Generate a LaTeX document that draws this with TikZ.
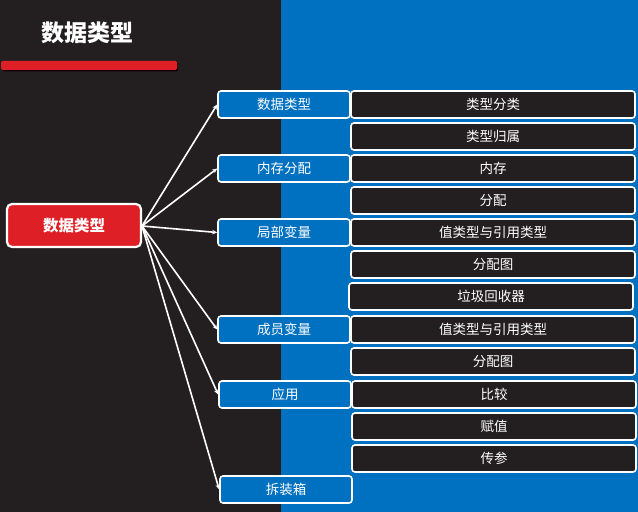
\documentclass[tikz,border=0pt]{standalone}
\usepackage{fontspec}
\setmainfont{Noto Sans CJK SC}
\usetikzlibrary{arrows.meta,shadows}
\definecolor{darkbg}{HTML}{231F20}
\definecolor{bluebg}{HTML}{0070C0}
\definecolor{redc}{HTML}{DF1F26}
\tikzset{
  lvone/.style={draw=white, line width=1.6bp, fill=bluebg, rounded corners=3bp, minimum width=132bp, minimum height=27bp, inner sep=0pt, text=white, font=\fontsize{13.5bp}{15bp}\selectfont},
  lvtwo/.style={draw=white, line width=1.6bp, fill=darkbg, rounded corners=3bp, minimum width=284bp, minimum height=27bp, inner sep=0pt, text=white, font=\fontsize{13.5bp}{15bp}\selectfont},
  conn/.style={white, line width=1.6bp, -{Stealth[length=5bp,width=4.5bp]}},
}
\begin{document}
\begin{tikzpicture}[x=1bp,y=-1bp]
\useasboundingbox (0,0) rectangle (638,512);
\fill[darkbg] (0,0) rectangle (281,512);
\fill[bluebg] (281,0) rectangle (638,512);
\node[text=white, font=\fontsize{23bp}{26bp}\selectfont\bfseries] (title) at (87,33) {数据类型};
\fill[black!70!red!30!black, rounded corners=1.5bp] (2,62.5) rectangle (178,71.5);
\fill[redc, rounded corners=1.5bp] (1,61) rectangle (177,70);
\node[draw=white, line width=2.2bp, fill=redc, rounded corners=5bp, minimum width=134bp, minimum height=43bp, inner sep=0pt, text=white, font=\fontsize{15.5bp}{18bp}\selectfont\bfseries] (root) at (74,225.5) {数据类型};
\node[lvone] (a1) at (284,104.5) {数据类型};
\node[lvone] (a2) at (284,168.5) {内存分配};
\node[lvone] (a3) at (284,232.5) {局部变量};
\node[lvone] (a4) at (284,329.5) {成员变量};
\node[lvone] (a5) at (285,394.5) {应用};
\node[lvone] (a6) at (286,489.5) {拆装箱};
\node[lvtwo] (b1) at (493,104.5) {类型分类};
\node[lvtwo] (b2) at (493,136.5) {类型归属};
\node[lvtwo] (b3) at (493,168.5) {内存};
\node[lvtwo] (b4) at (493,200.5) {分配};
\node[lvtwo] (b5) at (493,232.5) {值类型与引用类型};
\node[lvtwo] (b6) at (493,264.5) {分配图};
\node[lvtwo] (b7) at (491,296.5) {垃圾回收器};
\node[lvtwo] (b8) at (493,329.5) {值类型与引用类型};
\node[lvtwo] (b9) at (493,361.5) {分配图};
\node[lvtwo] (b10) at (494,394.5) {比较};
\node[lvtwo] (b11) at (494,426.5) {赋值};
\node[lvtwo] (b12) at (494,458.5) {传参};
\coordinate (o) at (142,226);
\foreach \n in {a1,a2,a3,a4,a5,a6} \draw[conn] (o) -- (\n.west);
\end{tikzpicture}
\end{document}
